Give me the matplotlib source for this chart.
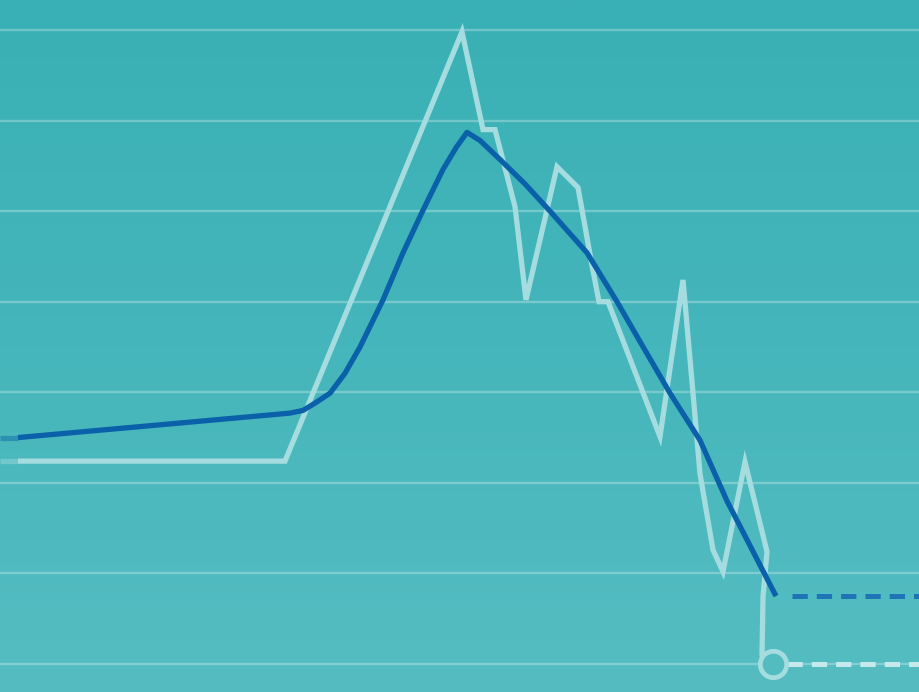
import numpy as np
import matplotlib
matplotlib.use("Agg")
import matplotlib.pyplot as plt
from matplotlib.colors import LinearSegmentedColormap

plt.rcParams['lines.scale_dashes'] = False

# ---- data (x in chart units, y in gridline units) ----
light_x = [1.8, 28.5, 46.2, 48.3, 49.5, 51.5, 52.6, 55.7, 57.8, 59.2, 59.9, 60.8,
           66.0, 68.3, 69.3, 70.0, 71.3, 72.3, 74.5, 76.7, 76.3, 76.2, 77.3]
light_y = [2.24, 2.24, 6.98, 5.90, 5.90, 5.05, 4.02, 5.49, 5.26, 4.40, 4.00, 4.00,
           2.51, 4.24, 2.99, 2.10, 1.26, 1.02, 2.23, 1.24, 0.74, 0.10, 0.0]

dark_x = [1.8, 29.0, 30.3, 31.5, 33.0, 34.5, 36.0, 38.3, 40.3, 42.3, 44.3, 45.6, 46.7,
          48.0, 50.0, 52.5, 55.0, 58.7, 61.7, 64.0, 67.0, 70.0, 72.7, 77.6]
dark_y = [2.50, 2.77, 2.80, 2.88, 2.99, 3.21, 3.50, 4.02, 4.54, 5.01, 5.46, 5.70, 5.87,
          5.78, 5.57, 5.30, 5.00, 4.54, 4.00, 3.56, 2.99, 2.47, 1.80, 0.75]

light_tail_x = [78.7, 92.0]
dark_tail_x = [79.2, 92.0]
grid_vals = [0, 1, 2, 3, 4, 5, 6, 7]

# ---- figure ----
fig = plt.figure(figsize=(9.2, 6.92), dpi=100)
ax = fig.add_axes([0, 0, 1, 1])
ymin, ymax = -0.309, 7.331
xmin, xmax = 0, 92
ax.set_xlim(xmin, xmax)
ax.set_ylim(ymin, ymax)
ax.axis('off')

cmap = LinearSegmentedColormap.from_list('bg', ['#39b0b5', '#45b6bb', '#55bdc2'])
grad = np.linspace(0, 1, 256).reshape(-1, 1)
ax.imshow(grad, cmap=cmap, aspect='auto', extent=[xmin, xmax, ymin, ymax],
          zorder=0, origin='upper')
ax.set_xlim(xmin, xmax)
ax.set_ylim(ymin, ymax)

for g in grid_vals:
    ax.axhline(g, color='white', alpha=0.28, lw=1.7, zorder=1)

light_col = '#a4dce0'
dark_col = '#0a61aa'

# faint left stubs
ax.plot([0, light_x[0]], [light_y[0]] * 2, color=light_col, alpha=0.45, lw=3.8,
        solid_capstyle='butt', zorder=2)
ax.plot([0, dark_x[0]], [dark_y[0]] * 2, color=dark_col, alpha=0.45, lw=3.8,
        solid_capstyle='butt', zorder=2)

ax.plot(light_x, light_y, color=light_col, lw=3.8, solid_joinstyle='miter',
        solid_capstyle='butt', zorder=3)
ax.plot(dark_x, dark_y, color=dark_col, lw=3.8, solid_joinstyle='round',
        solid_capstyle='butt', zorder=4)

# dashed tails
ax.plot(light_tail_x, [light_y[-1]] * 2, color='#c6e9ec', lw=3.6,
        linestyle=(0, (11, 6.5)), dash_capstyle='butt', zorder=3)
ax.plot(dark_tail_x, [dark_y[-1]] * 2, color='#1f74b6', lw=3.6,
        linestyle=(0, (11, 6.5)), dash_capstyle='butt', zorder=3)

# hollow end marker
ax.plot([light_x[-1]], [light_y[-1]], marker='o', ms=19, mfc='#53bcc1',
        mec=light_col, mew=3.4, zorder=5)

fig.savefig('out.png', dpi=100)
